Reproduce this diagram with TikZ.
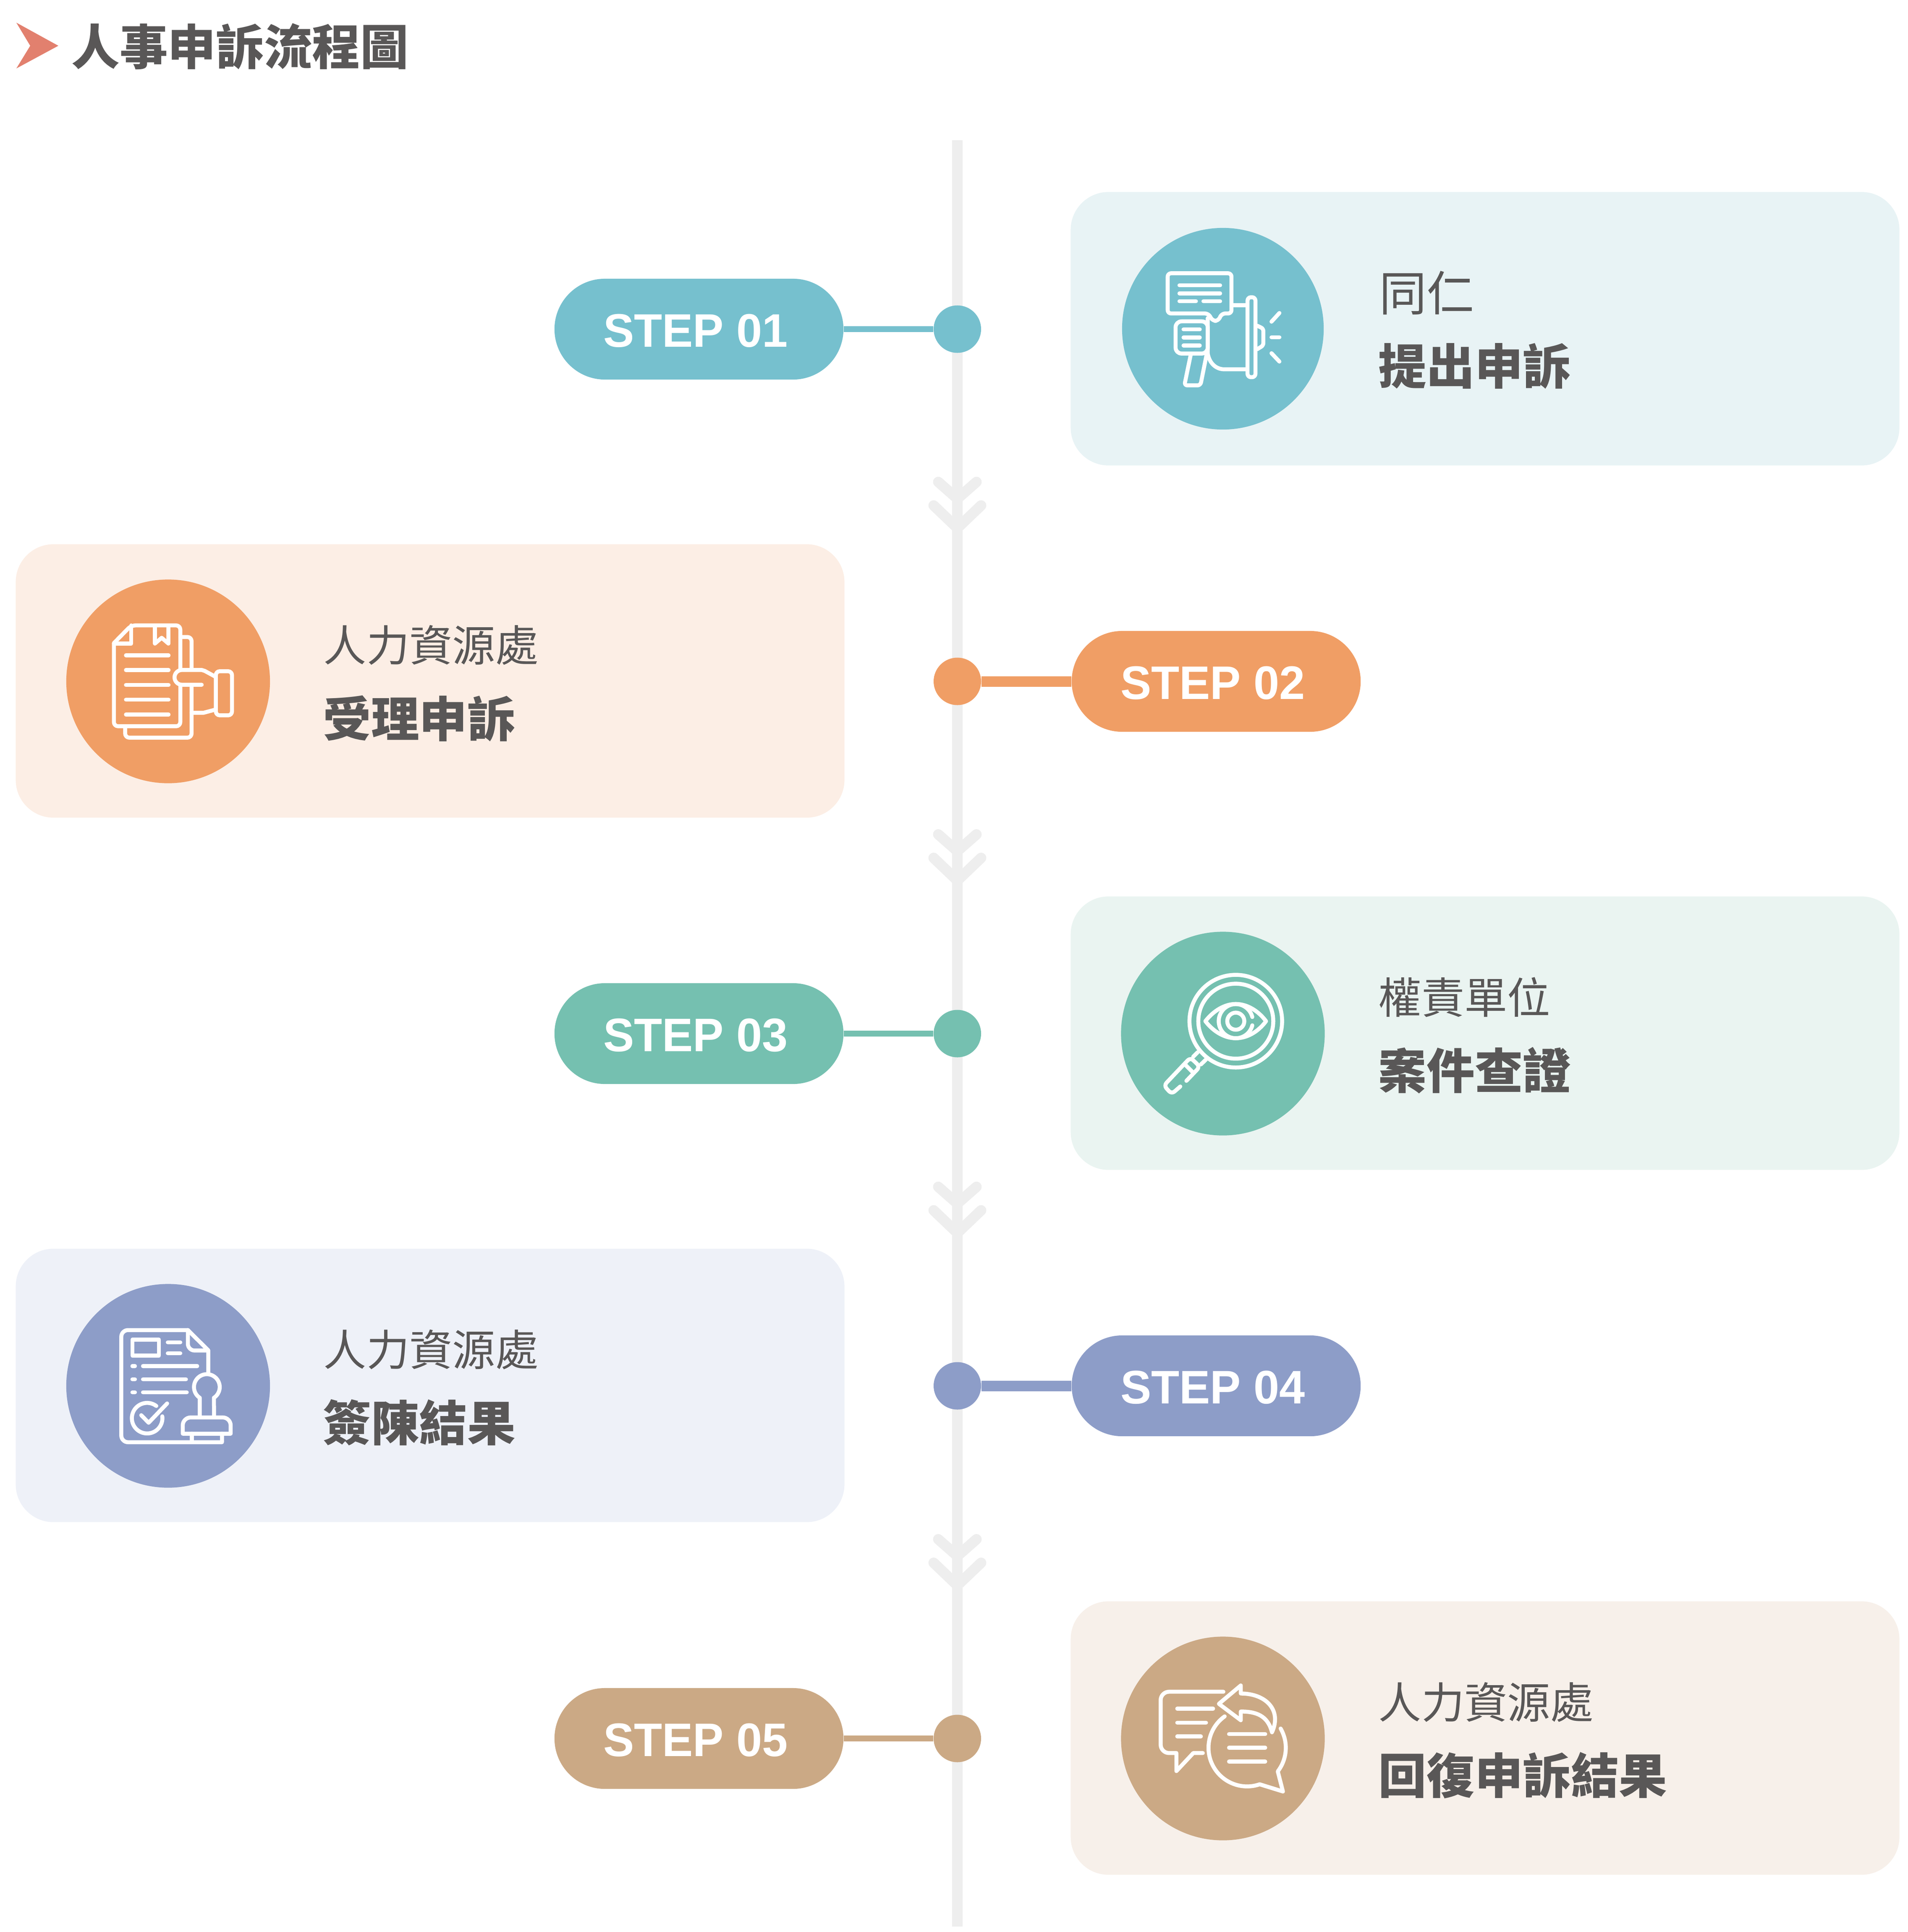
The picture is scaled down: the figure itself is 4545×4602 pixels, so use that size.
\documentclass[tikz,border=0pt]{standalone}
\usepackage{fontspec}
\setmainfont[FakeStretch=0.98]{Liberation Sans}
\newfontfamily\cjkfont{Noto Sans CJK TC}
\definecolor{inkgray}{HTML}{595757}
\definecolor{railgray}{HTML}{EEEEEE}
\definecolor{markred}{HTML}{E2806E}
\definecolor{lakeblue}{HTML}{76C0CE}
\definecolor{lakepale}{HTML}{E8F3F5}
\definecolor{orangemain}{HTML}{F09E65}
\definecolor{orangepale}{HTML}{FCEEE5}
\definecolor{mintmain}{HTML}{75C0B0}
\definecolor{mintpale}{HTML}{EAF4F1}
\definecolor{irismain}{HTML}{8D9DC8}
\definecolor{irispale}{HTML}{EEF1F8}
\definecolor{sandmain}{HTML}{CBA985}
\definecolor{sandpale}{HTML}{F7F0EA}
\tikzset{
  panel/.style={rounded corners=0.9cm,minimum width=19.73cm,minimum height=6.51cm,inner sep=0pt},
  iconback/.style={circle,minimum size=4.85cm,inner sep=0pt},
  steppill/.style={rounded corners=1.2cm,minimum width=6.88cm,minimum height=2.4cm,inner sep=0pt,text=white,
    text height=0.86cm,execute at begin node=\hspace*{-0.16cm},
    font=\fontsize{31.9}{34}\selectfont\bfseries},
  stepdot/.style={circle,minimum size=1.13cm,inner sep=0pt},
  thinlink/.style={line width=0.133cm},
  thicklink/.style={line width=0.25cm},
  railbar/.style={draw=railgray,line width=0.25cm},
  railmark/.style={draw=railgray,line width=0.25cm,line cap=round,line join=round},
  whotext/.style={anchor=base west,inner sep=0pt,text=inkgray,font=\cjkfont\fontsize{29.1}{31}\selectfont},
  whatext/.style={anchor=base west,inner sep=0pt,text=inkgray,font=\cjkfont\fontsize{32.6}{34}\selectfont\bfseries},
  iconline/.style={draw=white,line width=0.095cm,line cap=round,line join=round},
  zoomcoords/.style={x=0.003827cm,y=-0.003827cm}
}
\begin{document}
\begin{tikzpicture}[x=0.01cm,y=-0.01cm]
  \useasboundingbox (0,0) rectangle (4545,4602);
  \fill[markred] (39,54) -- (139,109) -- (39,163) -- (72,109) -- cycle;
  \node[whatext] (title) at (170,154) {人事申訴流程圖};

  \coordinate (railtop) at (2280.5,334);
  \coordinate (railend) at (2280.5,4589);
  \draw[railbar] (railtop) -- (railend);
  \draw[railmark] (2235,1148) -- (2280.5,1188) -- (2326,1148);
  \draw[railmark] (2224,1204) -- (2280.5,1258) -- (2337,1204);
  \draw[railmark] (2235,1987.5) -- (2280.5,2027.5) -- (2326,1987.5);
  \draw[railmark] (2224,2043.5) -- (2280.5,2097.5) -- (2337,2043.5);
  \draw[railmark] (2235,2827) -- (2280.5,2867) -- (2326,2827);
  \draw[railmark] (2224,2883) -- (2280.5,2937) -- (2337,2883);
  \draw[railmark] (2235,3666.5) -- (2280.5,3706.5) -- (2326,3666.5);
  \draw[railmark] (2224,3722.5) -- (2280.5,3776.5) -- (2337,3722.5);

  \node[steppill,fill=lakeblue] (step1) at (1665,784) {STEP 01};
  \node[stepdot,fill=lakeblue] (dot1) at (2280.5,784) {};
  \draw[thinlink,lakeblue] (step1) -- (dot1);
  \node[panel,fill=lakepale] (panel1) at (3537.5,783) {};
  \node[iconback,fill=lakeblue,minimum size=4.8cm] (back1) at (2913,783) {};
  \node[whotext,font=\cjkfont\fontsize{32.2}{34}\selectfont] (who1) at (3285,740) {同仁};
  \node[whatext] (what1) at (3283,915) {提出申訴};

  \node[steppill,fill=orangemain] (step2) at (2897,1623) {STEP 02};
  \node[stepdot,fill=orangemain] (dot2) at (2280.5,1623) {};
  \draw[thicklink,orangemain] (dot2) -- (step2);
  \node[panel,fill=orangepale] (panel2) at (1024.5,1622) {};
  \node[iconback,fill=orangemain] (back2) at (400.5,1623) {};
  \node[whotext] (who2) at (770,1575) {人力資源處};
  \node[whatext] (what2) at (769,1755) {受理申訴};

  \node[steppill,fill=mintmain] (step3) at (1665,2462) {STEP 03};
  \node[stepdot,fill=mintmain] (dot3) at (2280.5,2462) {};
  \draw[thinlink,mintmain] (step3) -- (dot3);
  \node[panel,fill=mintpale] (panel3) at (3537.5,2461) {};
  \node[iconback,fill=mintmain] (back3) at (2913,2462) {};
  \node[whotext] (who3) at (3283,2414) {權責單位};
  \node[whatext] (what3) at (3283,2593) {案件查證};

  \node[steppill,fill=irismain] (step4) at (2897,3301) {STEP 04};
  \node[stepdot,fill=irismain] (dot4) at (2280.5,3301) {};
  \draw[thicklink,irismain] (dot4) -- (step4);
  \node[panel,fill=irispale] (panel4) at (1024.5,3300) {};
  \node[iconback,fill=irismain] (back4) at (400.5,3301) {};
  \node[whotext] (who4) at (770,3253) {人力資源處};
  \node[whatext] (what4) at (769,3432) {簽陳結果};

  \node[steppill,fill=sandmain] (step5) at (1665,4141) {STEP 05};
  \node[stepdot,fill=sandmain] (dot5) at (2280.5,4141) {};
  \draw[thinlink,sandmain] (step5) -- (dot5);
  \node[panel,fill=sandpale] (panel5) at (3537.5,4140) {};
  \node[iconback,fill=sandmain] (back5) at (2913,4141) {};
  \node[whotext] (who5) at (3283,4093) {人力資源處};
  \node[whatext] (what5) at (3283,4272) {回復申訴結果};

  \begin{scope}[shift={(2552,480)},x=0.0051cm,y=-0.003827cm]
    \draw[iconline,rounded corners=0.08cm] (640,696) -- (450,696) -- (450,446) -- (748,446) -- (748,696) -- (703,696) -- (686,742) -- (660,742) -- cycle;
    \draw[iconline] (505,521) -- (695,521);
    \draw[iconline] (505,571) -- (695,571);
    \draw[iconline] (505,620) -- (582,620);
    \draw[iconline] (617,620) -- (695,620);
    \draw[iconline] (756,645) -- (815,645);
    \draw[iconline,rounded corners=0.08cm] (823,595) rectangle (860,1092);
    \draw[iconline,rounded corners=0.06cm] (868,772) -- (897,790) -- (897,895) -- (868,918);
    \draw[iconline] (935,747) -- (972,693);
    \draw[iconline] (935,844) -- (972,844);
    \draw[iconline] (935,943) -- (972,995);
    \draw[iconline,rounded corners=0.14cm] (637,745) -- (487,745) -- (487,945) -- (637,945) -- cycle;
    \draw[iconline] (524,795) -- (600,795);
    \draw[iconline] (524,845) -- (600,845);
    \draw[iconline] (524,895) -- (600,895);
    \draw[iconline] (637,725) -- (637,945) .. controls (645,1005) and (675,1043) .. (715,1043) -- (815,1043);
    \draw[iconline,rounded corners=0.07cm] (558,950) -- (528,1143) -- (603,1143) -- (632,950);
  \end{scope}

  \begin{scope}[shift={(100,1300)},zoomcoords]
    \draw[iconline] (860,770) [rounded corners=0.1cm] -- (860,495) -- (555,495) [sharp corners] -- (447,605) [rounded corners=0.1cm] -- (447,1122) -- (860,1122) -- (860,870);
    \draw[iconline] (555,495) -- (555,608) -- (447,608);
    \draw[iconline] (702,495) -- (702,608) -- (744,572) -- (786,608) -- (786,495);
    \draw[iconline] (522,681) -- (787,681);
    \draw[iconline] (522,773) -- (787,773);
    \draw[iconline] (522,865) -- (787,865);
    \draw[iconline] (522,957) -- (787,957);
    \draw[iconline] (522,1049) -- (787,1049);
    \draw[iconline,rounded corners=0.1cm] (860,567) -- (930,567) -- (930,770);
    \draw[iconline,rounded corners=0.1cm] (930,870) -- (930,1193) -- (517,1193) -- (517,1122);
    \draw[iconline] (993,864) -- (870,864) arc[start angle=90,end angle=270,radius=46] -- (993,772) -- (1012,778) -- (1080,815);
    \draw[iconline] (930,1038) -- (1005,1038) -- (1080,1018);
    \draw[iconline,rounded corners=0.09cm] (1081,780) rectangle (1181,1054);
  \end{scope}

  \begin{scope}[shift={(2600,2150)},zoomcoords]
    \draw[iconline] (897,737) circle (288);
    \draw[iconline] (897,737) circle (233);
    \draw[iconline] (708,737) .. controls (760,670) and (830,630) .. (897,630) .. controls (965,630) and (1035,670) .. (1085,737) .. controls (1035,805) and (965,843) .. (897,843) .. controls (830,843) and (760,805) .. (708,737) -- cycle;
    \draw[iconline] (999.8,762.6) arc[start angle=14,end angle=346,radius=106];
    \draw[iconline] (897,737) circle (53);
    \draw[iconline] (660,930) -- (632,958);
    \draw[iconline] (712,975) -- (680,1006);
    \draw[iconline,rounded corners=0.09cm] (590,1108) -- (674,1020) -- (615,963) -- (450,1137) -- (498,1190) -- (552,1143);
    \draw[iconline] (580,1005) -- (630,1055);
  \end{scope}

  \begin{scope}[shift={(100,3000)},zoomcoords]
    \draw[iconline] (907,439) [rounded corners=0.16cm] -- (493,439) -- (493,1136) [sharp corners] -- (1119,1136) -- (1119,1083);
    \draw[iconline] (907,439) -- (1034,565) -- (1034,705);
    \draw[iconline] (907,439) [rounded corners=0.16cm] -- (907,566) [sharp corners] -- (1034,566);
    \draw[iconline] (562,498) rectangle (727,598);
    \draw[iconline] (782,515) -- (860,515);
    \draw[iconline] (782,583) -- (860,583);
    \draw[iconline] (562,663) -- (578,663);
    \draw[iconline] (628,663) -- (965,663);
    \draw[iconline] (562,745) -- (578,745);
    \draw[iconline] (628,745) -- (895,745);
    \draw[iconline] (562,826) -- (578,826);
    \draw[iconline] (628,826) -- (900,826);
    \draw[iconline] (748,975) arc[start angle=-7,end angle=307,radius=95];
    \draw[iconline] (617,968) -- (663,1015) -- (778,895);
    \draw[iconline] (981,982) -- (981,860) arc[start angle=123.3,end angle=416.7,radius=80] -- (1070,982);
    \draw[iconline] (875,1083) [rounded corners=0.19cm] -- (875,982) -- (1173,982) [sharp corners] -- (1173,1083) -- cycle;
    \draw[iconline] (931,1083) -- (931,1136);
  \end{scope}

  \begin{scope}[shift={(2600,3840)},zoomcoords]
    \draw[iconline] (820,495) [rounded corners=0.2cm] -- (430,495) -- (430,876) [sharp corners] -- (528,876) -- (528,988) -- (633,876) -- (692,876);
    \draw[iconline] (533,600) -- (756,600);
    \draw[iconline] (533,687) -- (712,687);
    \draw[iconline] (533,773) -- (680,773);
    \draw[iconline] (792,570) -- (928,456) -- (928,506) .. controls (1085,506) and (1185,610) .. (1122,747) .. controls (1095,640) and (1020,618) .. (928,618) -- (928,672) -- cycle;
    \draw[iconline] (828,648) arc[start angle=234.5,end angle=71,radius=240] -- (1190,1115) -- (1158,990) arc[start angle=37.6,end angle=-30,radius=240];
    \draw[iconline] (855,758) -- (1080,758);
    \draw[iconline] (855,843) -- (1080,843);
    \draw[iconline] (855,929) -- (1080,929);
  \end{scope}
\end{tikzpicture}
\end{document}
